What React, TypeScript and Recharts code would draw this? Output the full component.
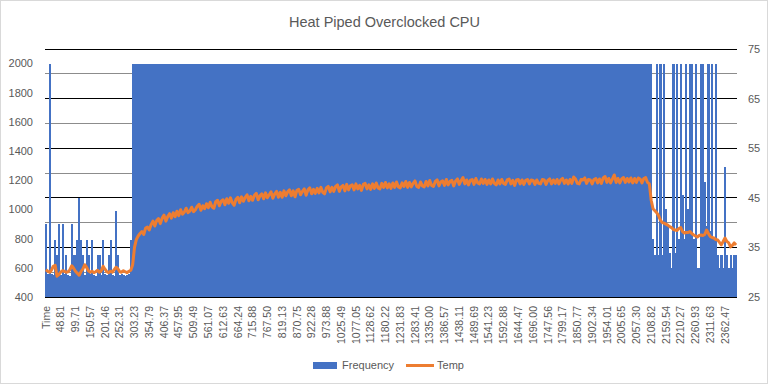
import React from 'react';
import { ComposedChart, Bar, Line, XAxis, YAxis, CartesianGrid, Legend } from 'recharts';

const timeLabels = [
  'Time', '48.81', '99.71', '150.57', '201.46', '252.31', '303.23', '354.79', '406.37', '457.95',
  '509.49', '561.07', '612.63', '664.24', '715.88', '767.50', '819.13', '870.75', '922.28', '973.88',
  '1025.49', '1077.05', '1128.62', '1180.22', '1231.83', '1283.41', '1335.00', '1386.57', '1438.11', '1489.69',
  '1541.23', '1592.88', '1644.47', '1696.00', '1747.56', '1799.17', '1850.77', '1902.34', '1954.01', '2005.65',
  '2057.30', '2108.82', '2159.54', '2210.27', '2260.93', '2311.63', '2362.47',
];
const LABEL_EVERY = 8;

const frequency = [
  // idle phase
  900, 560, 2000, 555, 550, 790, 690, 900, 550, 900,
  555, 690, 550, 545, 900, 690, 690, 790, 1080, 790,
  690, 550, 790, 690, 555, 790, 550, 545, 690, 690,
  550, 790, 555, 550, 690, 790, 550, 545, 990, 690,
  550, 555, 550, 545, 550, 555, 790,
  // load phase
  2000, 2000, 2000, 2000, 2000, 2000, 2000, 2000, 2000, 2000, 2000, 2000, 2000, 2000, 2000, 2000, 2000, 2000, 2000, 2000,
  2000, 2000, 2000, 2000, 2000, 2000, 2000, 2000, 2000, 2000, 2000, 2000, 2000, 2000, 2000, 2000, 2000, 2000, 2000, 2000,
  2000, 2000, 2000, 2000, 2000, 2000, 2000, 2000, 2000, 2000, 2000, 2000, 2000, 2000, 2000, 2000, 2000, 2000, 2000, 2000,
  2000, 2000, 2000, 2000, 2000, 2000, 2000, 2000, 2000, 2000, 2000, 2000, 2000, 2000, 2000, 2000, 2000, 2000, 2000, 2000,
  2000, 2000, 2000, 2000, 2000, 2000, 2000, 2000, 2000, 2000, 2000, 2000, 2000, 2000, 2000, 2000, 2000, 2000, 2000, 2000,
  2000, 2000, 2000, 2000, 2000, 2000, 2000, 2000, 2000, 2000, 2000, 2000, 2000, 2000, 2000, 2000, 2000, 2000, 2000, 2000,
  2000, 2000, 2000, 2000, 2000, 2000, 2000, 2000, 2000, 2000, 2000, 2000, 2000, 2000, 2000, 2000, 2000, 2000, 2000, 2000,
  2000, 2000, 2000, 2000, 2000, 2000, 2000, 2000, 2000, 2000, 2000, 2000, 2000, 2000, 2000, 2000, 2000, 2000, 2000, 2000,
  2000, 2000, 2000, 2000, 2000, 2000, 2000, 2000, 2000, 2000, 2000, 2000, 2000, 2000, 2000, 2000, 2000, 2000, 2000, 2000,
  2000, 2000, 2000, 2000, 2000, 2000, 2000, 2000, 2000, 2000, 2000, 2000, 2000, 2000, 2000, 2000, 2000, 2000, 2000, 2000,
  2000, 2000, 2000, 2000, 2000, 2000, 2000, 2000, 2000, 2000, 2000, 2000, 2000, 2000, 2000, 2000, 2000, 2000, 2000, 2000,
  2000, 2000, 2000, 2000, 2000, 2000, 2000, 2000, 2000, 2000, 2000, 2000, 2000, 2000, 2000, 2000, 2000, 2000, 2000, 2000,
  2000, 2000, 2000, 2000, 2000, 2000, 2000, 2000, 2000, 2000, 2000, 2000, 2000, 2000, 2000, 2000, 2000, 2000, 2000, 2000,
  2000, 2000, 2000, 2000, 2000, 2000, 2000, 2000, 2000, 2000, 2000, 2000, 2000, 2000, 2000, 2000, 2000, 2000, 2000, 2000,
  2000, 2000,
  // cool-down phase
  800, 690, 2000, 690, 2000, 690, 2000, 1000, 900, 700,
  600, 2000, 700, 2000, 800, 2000, 1100, 800, 2000, 1000,
  2000, 2000, 800, 2000, 600, 600, 2000, 2000, 1190, 890,
  2000, 850, 2000, 800, 2000, 690, 600, 690, 600, 1290,
  690, 600, 690, 600, 690, 690,
];

const temperature = [
  // idle phase
  30.5, 30.2, 30.0, 30.4, 31.2, 31.4, 29.2, 29.5, 30.0, 30.3,
  30.2, 30.0, 30.1, 30.5, 31.3, 30.8, 30.2, 29.8, 29.4, 30.1,
  30.6, 31.5, 31.0, 30.3, 30.0, 30.2, 29.9, 30.1, 30.4, 30.0,
  30.3, 31.2, 30.6, 30.1, 29.9, 30.2, 30.0, 30.5, 31.0, 30.7,
  30.1, 30.0, 30.3, 30.1, 29.9, 30.2, 30.4,
  // load phase
  31.5, 35.0, 36.6, 37.3, 37.8, 38.2, 37.6, 38.9, 39.1, 38.5,
  39.6, 40.3, 39.3, 40.4, 40.8, 39.8, 40.9, 41.5, 40.3, 41.2,
  41.8, 40.9, 42.0, 41.2, 42.3, 41.4, 42.6, 41.7, 42.1, 42.9,
  42.0, 42.3, 43.1, 42.2, 42.6, 43.3, 43.7, 42.5, 43.4, 42.8,
  43.8, 43.0, 44.1, 43.2, 42.9, 44.2, 44.5, 43.4, 44.3, 44.6,
  43.6, 44.8, 43.9, 45.0, 44.0, 43.5, 44.7, 45.1, 44.0, 45.2,
  44.3, 45.1, 45.6, 44.4, 45.3, 44.5, 45.5, 45.9, 44.6, 45.4,
  45.8, 44.8, 46.0, 45.0, 45.6, 46.2, 44.9, 45.8, 46.3, 45.1,
  46.1, 45.1, 46.4, 45.4, 46.2, 46.6, 45.4, 46.4, 45.2, 46.5,
  46.7, 45.6, 46.3, 46.8, 45.5, 46.6, 47.0, 45.8, 46.7, 45.9,
  46.9, 46.0, 47.1, 46.1, 45.8, 47.0, 47.3, 46.2, 47.1, 46.3,
  47.3, 47.6, 46.3, 47.2, 47.5, 46.4, 47.7, 46.6, 47.4, 47.6,
  46.6, 47.8, 46.8, 47.5, 46.5, 47.7, 47.9, 46.8, 47.6, 46.7,
  47.8, 46.9, 48.0, 47.0, 46.8, 47.9, 47.1, 48.1, 47.0, 47.8,
  46.9, 48.0, 47.1, 48.2, 47.2, 47.0, 48.0, 47.3, 48.3, 47.1,
  48.1, 47.2, 47.9, 48.4, 47.3, 47.1, 48.2, 47.4, 47.2, 48.3,
  47.4, 48.5, 47.5, 47.3, 48.3, 48.6, 47.4, 48.2, 48.4, 47.5,
  48.7, 47.6, 48.3, 48.5, 47.4, 48.4, 48.8, 47.7, 48.5, 49.1,
  47.8, 48.6, 47.6, 48.5, 48.7, 47.7, 48.9, 48.0, 47.8, 48.8,
  47.9, 48.7, 47.7, 48.6, 47.8, 48.8, 47.9, 47.6, 48.6, 47.8,
  48.7, 47.9, 47.7, 48.6, 48.8, 47.8, 48.5, 47.5, 48.6, 48.7,
  47.8, 48.6, 47.7, 48.5, 48.7, 47.8, 48.6, 48.5, 47.7, 48.6,
  47.9, 47.8, 48.7, 48.6, 47.7, 48.5, 48.8, 47.8, 48.6, 47.9,
  48.7, 47.8, 48.6, 48.9, 47.9, 48.6, 47.8, 48.7, 47.9, 49.2,
  48.8, 47.9, 47.8, 48.7, 48.6, 49.0, 47.9, 48.7, 48.6, 47.8,
  48.7, 48.9, 48.0, 48.8, 47.9, 49.0, 49.3, 48.1, 48.9, 48.0,
  48.8, 49.6, 48.1, 48.9, 48.0, 48.8, 49.1, 48.1, 48.9, 48.2,
  49.0, 48.0, 48.9, 48.1, 49.0, 48.8, 48.0, 48.9, 49.1, 48.1,
  47.8, 44.5,
  // cool-down phase
  42.8, 42.4, 42.0, 41.4, 40.5, 40.0, 39.9, 39.7, 39.5, 39.2,
  39.0, 38.6, 38.5, 38.4, 38.8, 39.0, 38.2, 37.9, 38.0, 38.0,
  38.2, 37.8, 37.5, 37.3, 37.1, 37.4, 37.5, 37.4, 37.6, 38.5,
  37.8, 37.2, 37.0, 36.9, 36.6, 36.5, 36.0, 35.5, 36.2, 36.9,
  36.2, 35.9, 35.1, 35.4, 35.9, 35.5,
];

const leftTicks = [400, 600, 800, 1000, 1200, 1400, 1600, 1800, 2000];
const rightTicks = [25, 30, 35, 40, 45, 50, 55, 60, 65, 70, 75];

const data = frequency.map((f, i) => ({ i, freq: f, temp: temperature[i] }));

const CHART_W = 769;
const CHART_H = 385;
const LEFT_AXIS_W = 45;
const RIGHT_AXIS_W = 32;
const BAND = (CHART_W - LEFT_AXIS_W - RIGHT_AXIS_W) / frequency.length;

const BLUE = '#4472C4';
const ORANGE = '#ED7D31';
const TEXT = '#595959';

const XTick = (props: any) => {
  const { x, y, payload } = props;
  const label = timeLabels[Math.round(payload.value / LABEL_EVERY)];
  return (
    <text
      x={x}
      y={y + 1}
      transform={`rotate(-90, ${x}, ${y + 1})`}
      textAnchor="end"
      dy="0.35em"
      fill={TEXT}
      fontSize={10.5}
    >
      {label}
    </text>
  );
};

const BarShape = (props: any) => {
  const { x, y, width, height } = props;
  if (!height || height <= 0) return null;
  return <rect x={x} y={y} width={width + 0.3} height={height} fill={BLUE} shapeRendering="crispEdges" />;
};

const gridLine = (props: any) => {
  const major = props.index % 2 === 0;
  return (
    <line
      key={props.key}
      x1={props.x1}
      y1={props.y1}
      x2={props.x2}
      y2={props.y2}
      stroke={major ? '#000000' : '#8C8C8C'}
      strokeWidth={1}
      shapeRendering="crispEdges"
    />
  );
};

const renderLegend = () => (
  <div
    style={{
      display: 'flex',
      justifyContent: 'center',
      alignItems: 'center',
      height: 20,
      fontSize: 11,
      color: TEXT,
      paddingLeft: 8,
    }}
  >
    <span style={{ display: 'inline-block', width: 24, height: 7, background: BLUE, marginRight: 5 }} />
    <span style={{ marginRight: 12 }}>Frequency</span>
    <span style={{ display: 'inline-block', width: 28, height: 3, background: ORANGE, marginRight: 3 }} />
    <span>Temp</span>
  </div>
);

export default function App() {
  return (
    <div
      style={{
        position: 'absolute',
        left: 0,
        top: 0,
        width: CHART_W,
        height: CHART_H,
        background: '#ffffff',
        fontFamily: '"Liberation Sans", Arial, sans-serif',
      }}
    >
      <div
        style={{
          position: 'absolute',
          left: 0,
          top: 0,
          width: CHART_W - 1,
          height: CHART_H - 1,
          border: '1px solid #D9D9D9',
          boxSizing: 'border-box',
          pointerEvents: 'none',
        }}
      />
      <div
        style={{
          position: 'absolute',
          left: 0,
          top: 14,
          width: CHART_W,
          textAlign: 'center',
          fontSize: 14.5,
          lineHeight: '17px',
          color: TEXT,
        }}
      >
        Heat Piped Overclocked CPU
      </div>
      <ComposedChart
        width={CHART_W}
        height={CHART_H}
        data={data}
        margin={{ top: 49, right: 0, bottom: 10, left: 0 }}
        barCategoryGap={0}
        barGap={0}
      >
        <CartesianGrid yAxisId="right" vertical={false} horizontal={gridLine} syncWithTicks />
        <XAxis
          dataKey="i"
          type="category"
          interval={LABEL_EVERY - 1}
          tick={<XTick />}
          tickLine={false}
          axisLine={false}
          height={58}
        />
        <YAxis
          yAxisId="left"
          orientation="left"
          domain={[400, 2100]}
          ticks={leftTicks}
          width={LEFT_AXIS_W}
          axisLine={false}
          tickLine={false}
          tickMargin={6}
          tick={{ fill: TEXT, fontSize: 11 }}
          allowDataOverflow
        />
        <YAxis
          yAxisId="right"
          orientation="right"
          domain={[25, 75]}
          ticks={rightTicks}
          width={RIGHT_AXIS_W}
          axisLine={false}
          tickLine={false}
          tickMargin={5}
          tick={{ fill: TEXT, fontSize: 11 }}
          tickFormatter={(v: number) => ((v - 25) % 10 === 0 ? String(v) : '')}
          allowDataOverflow
        />
        <Legend verticalAlign="bottom" height={20} content={renderLegend} />
        <Bar
          yAxisId="left"
          dataKey="freq"
          name="Frequency"
          fill={BLUE}
          barSize={BAND - 0.005}
          shape={<BarShape />}
          isAnimationActive={false}
        />
        <Line
          yAxisId="right"
          dataKey="temp"
          name="Temp"
          type="linear"
          stroke={ORANGE}
          strokeWidth={3}
          strokeLinejoin="round"
          dot={false}
          activeDot={false}
          isAnimationActive={false}
        />
      </ComposedChart>
    </div>
  );
}
